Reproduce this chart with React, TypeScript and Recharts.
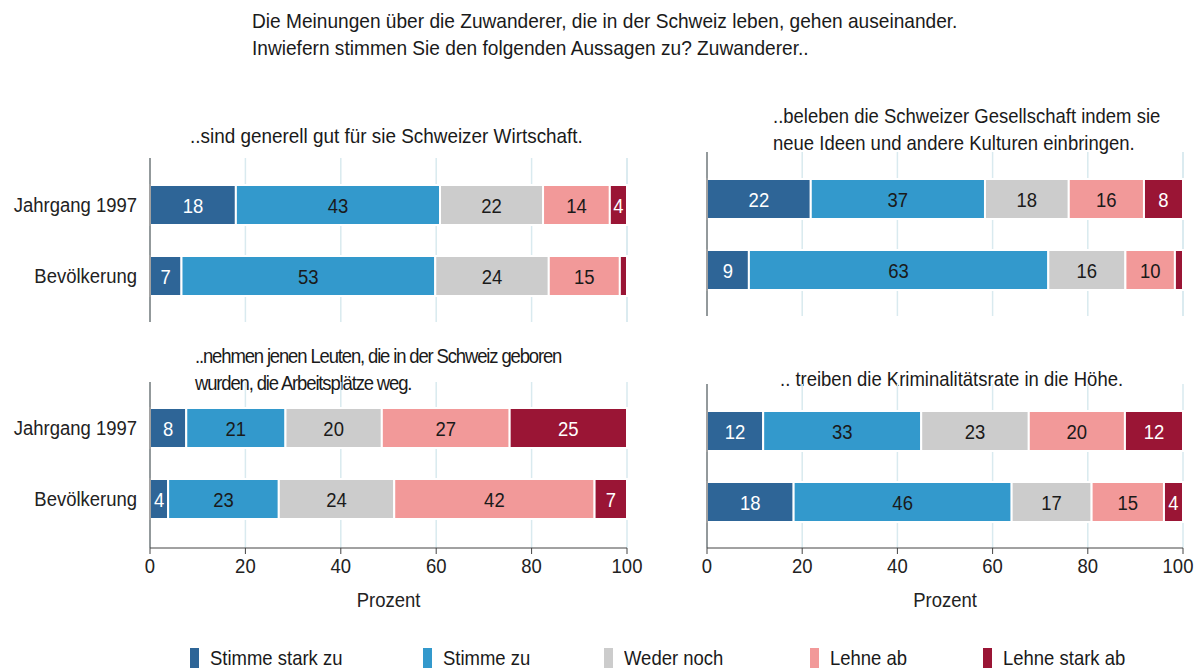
import React from "react";
import { BarChart, Bar, XAxis, YAxis, CartesianGrid, LabelList, Label } from "recharts";

const FONT = '"Liberation Sans", Arial, sans-serif';
const FS = 21;
const SX = 0.88; // schmale Schrift nachbilden

// Gruppen und Antwortkategorien
const groups = ["Jahrgang 1997", "Bevölkerung"];
const answers = ["Stimme stark zu", "Stimme zu", "Weder noch", "Lehne ab", "Lehne stark ab"];
const answerKeys = ["starkZu", "zu", "weder", "ab", "starkAb"];
const colors = ["#2e6597", "#3399cc", "#cccccc", "#f29999", "#9a1535"];
const labelColors = ["#ffffff", "#1a1a1a", "#1a1a1a", "#1a1a1a", "#ffffff"];
const xTicks = [0, 20, 40, 60, 80, 100];

// ..sind generell gut für sie Schweizer Wirtschaft.
const wirtschaftJahrgang = [18, 42.8, 21.6, 14, 3.6];
const wirtschaftBevoelkerung = [6.6, 53.2, 23.8, 14.9, 1.5];

// ..beleben die Schweizer Gesellschaft
const gesellschaftJahrgang = [21.8, 36.6, 17.6, 15.8, 8.2];
const gesellschaftBevoelkerung = [8.8, 62.9, 16.2, 10.4, 1.7];

// ..nehmen Arbeitsplätze weg
const arbeitJahrgang = [7.6, 20.8, 20.2, 26.8, 24.6];
const arbeitBevoelkerung = [3.8, 23.2, 24.2, 42.0, 6.8];

// .. treiben die Kriminalitätsrate in die Höhe
const kriminalJahrgang = [11.8, 33.2, 22.6, 20.2, 12.2];
const kriminalBevoelkerung = [18.2, 45.8, 16.8, 15.2, 4.0];

function buildRows(jahrgang: number[], bevoelkerung: number[]) {
  return [jahrgang, bevoelkerung].map((vals, i) => {
    const row: Record<string, any> = { group: groups[i] };
    answerKeys.forEach((k, j) => (row[k] = vals[j]));
    return row;
  });
}

// SVG-Text, horizontal gestaucht
function NarrowText({ x, y, anchor, dy, fill, children }: any) {
  return (
    <g transform={`translate(${x},${y}) scale(${SX},1)`}>
      <text x={0} y={0} dy={dy} textAnchor={anchor} fill={fill} fontSize={FS} fontFamily={FONT}>
        {children}
      </text>
    </g>
  );
}

const makeLabel = (color: string) => (props: any) => {
  const { x, y, width, height, value } = props;
  if (value == null || Number(value) < 2.5) return null;
  return (
    <NarrowText x={Number(x) + Number(width) / 2} y={Number(y) + Number(height) / 2} dy="0.36em" anchor="middle" fill={color}>
      {Math.round(Number(value))}
    </NarrowText>
  );
};

// am rechten Bildrand die letzte Beschriftung etwas einrücken
const makeXTick = (edgeShift: number) => (props: any) => (
  <NarrowText
    x={props.x - (props.payload.value === 100 ? edgeShift : 0)}
    y={props.y}
    dy="0.75em"
    anchor="middle"
    fill="#222"
  >
    {props.payload.value}
  </NarrowText>
);

const YTick = (props: any) => (
  <NarrowText x={props.x} y={props.y} dy="0.36em" anchor="end" fill="#222">
    {props.payload.value}
  </NarrowText>
);

const renderProzent = (props: any) => {
  const vb = props.viewBox || {};
  return (
    <NarrowText x={vb.x + vb.width / 2} y={vb.y + vb.height - 3} anchor="middle" fill="#222">
      Prozent
    </NarrowText>
  );
};

type PanelProps = {
  rows: Record<string, any>[];
  left: number;
  top: number;
  width: number;
  height: number;
  margin: { top: number; right: number; bottom: number; left: number };
  yWidth: number;
  showY: boolean;
  showX: boolean;
  pad: { top: number; bottom: number };
  edgeShift?: number;
};

function Panel({ rows, left, top, width, height, margin, yWidth, showY, showX, pad, edgeShift = 0 }: PanelProps) {
  const XTick = makeXTick(edgeShift);
  return (
    <div style={{ position: "absolute", left, top }}>
      <BarChart width={width} height={height} data={rows} layout="vertical" margin={margin} barSize={40}>
        <CartesianGrid horizontal={false} stroke="#d9eaef" strokeWidth={1.5} />
        <XAxis
          type="number"
          domain={[0, 100]}
          ticks={xTicks}
          interval={0}
          hide={!showX}
          height={62}
          stroke="#444"
          tickSize={6}
          tickMargin={3}
          tick={<XTick />}
        >
          <Label content={renderProzent} />
        </XAxis>
        <YAxis
          type="category"
          dataKey="group"
          width={yWidth}
          stroke="#444"
          tickLine={false}
          tickSize={0}
          tickMargin={13}
          padding={pad}
          tick={showY ? <YTick /> : false}
        />
        {answerKeys.map((k, j) => (
          <Bar key={k} dataKey={k} name={answers[j]} stackId="a" fill={colors[j]} stroke="#ffffff" strokeWidth={2} isAnimationActive={false}>
            <LabelList dataKey={k} content={makeLabel(labelColors[j])} />
          </Bar>
        ))}
      </BarChart>
    </div>
  );
}

const titleStyle: React.CSSProperties = {
  position: "absolute",
  fontFamily: FONT,
  fontSize: FS,
  lineHeight: "27px",
  color: "#1a1a1a",
  whiteSpace: "nowrap",
  transform: `scaleX(${SX})`,
  transformOrigin: "left top",
};

const legendLeft = [190, 423, 604, 810, 983];

export default function App() {
  return (
    <div style={{ position: "absolute", left: 0, top: 0, width: 1195, height: 668, background: "#fff", overflow: "hidden" }}>
      <div style={{ ...titleStyle, left: 252, top: 7, transform: "scaleX(0.91)" }}>
        Die Meinungen über die Zuwanderer, die in der Schweiz leben, gehen auseinander.
        <br />
        Inwiefern stimmen Sie den folgenden Aussagen zu? Zuwanderer..
      </div>

      <div style={{ ...titleStyle, left: 190, top: 122, transform: "scaleX(0.9)" }}>..sind generell gut für sie Schweizer Wirtschaft.</div>
      <div style={{ ...titleStyle, left: 773, top: 102 }}>
        ..beleben die Schweizer Gesellschaft indem sie
        <br />
        neue Ideen und andere Kulturen einbringen.
      </div>
      <div style={{ ...titleStyle, left: 195, top: 342, letterSpacing: -1.3 }}>
        ..nehmen jenen Leuten, die in der Schweiz geboren
        <br />
        wurden, die Arbeitsplätze weg.
      </div>
      <div style={{ ...titleStyle, left: 780, top: 365 }}>.. treiben die Kriminalitätsrate in die Höhe.</div>

      <Panel
        rows={buildRows(wirtschaftJahrgang, wirtschaftBevoelkerung)}
        left={0}
        top={150}
        width={660}
        height={177}
        margin={{ top: 8, right: 33, bottom: 5, left: 0 }}
        yWidth={150}
        showY
        showX={false}
        pad={{ top: 11, bottom: 11 }}
      />
      <Panel
        rows={buildRows(gesellschaftJahrgang, gesellschaftBevoelkerung)}
        left={640}
        top={144}
        width={575}
        height={177}
        margin={{ top: 8, right: 32, bottom: 5, left: 0 }}
        yWidth={67}
        showY={false}
        showX={false}
        pad={{ top: 11, bottom: 11 }}
      />
      <Panel
        rows={buildRows(arbeitJahrgang, arbeitBevoelkerung)}
        left={0}
        top={372}
        width={660}
        height={238}
        margin={{ top: 10, right: 33, bottom: 0, left: 0 }}
        yWidth={150}
        showY
        showX
        pad={{ top: 10, bottom: 14 }}
      />
      <Panel
        rows={buildRows(kriminalJahrgang, kriminalBevoelkerung)}
        left={640}
        top={374}
        width={575}
        height={236}
        margin={{ top: 10, right: 32, bottom: 0, left: 0 }}
        yWidth={67}
        showY={false}
        showX
        pad={{ top: 11, bottom: 11 }}
        edgeShift={5}
      />

      {/* Legende */}
      {answers.map((a, i) => (
        <div key={a} style={{ position: "absolute", left: legendLeft[i], top: 648, display: "flex", alignItems: "center" }}>
          <div style={{ width: 9, height: 20, background: colors[i] }} />
          <span
            style={{
              marginLeft: 11,
              fontFamily: FONT,
              fontSize: FS,
              color: "#1a1a1a",
              lineHeight: "20px",
              display: "inline-block",
              whiteSpace: "nowrap",
              transform: `scaleX(${SX})`,
              transformOrigin: "left center",
            }}
          >
            {a}
          </span>
        </div>
      ))}
    </div>
  );
}
